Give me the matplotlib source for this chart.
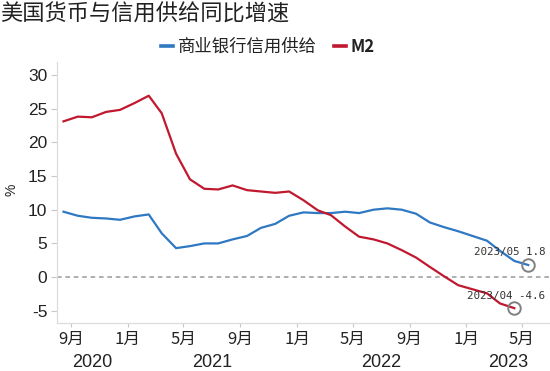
import matplotlib
matplotlib.use("Agg")
import matplotlib.pyplot as plt
import matplotlib.transforms as mtransforms
from matplotlib.lines import Line2D
import pandas as pd

plt.rcParams['font.family'] = ['Noto Sans CJK SC', 'DejaVu Sans']

title = "美国货币与信用供给同比增速"
series_names = ["商业银行信用供给", "M2"]

# monthly data, Aug 2020 onward
credit = [9.7, 9.1, 8.8, 8.7, 8.5, 9.0, 9.3, 6.5, 4.3, 4.6, 5.0, 5.0,
          5.6, 6.1, 7.3, 7.9, 9.1, 9.6, 9.5, 9.5, 9.7, 9.5, 10.0, 10.2,
          10.0, 9.4, 8.1, 7.4, 6.8, 6.1, 5.4, 3.9, 2.4, 1.8]
m2 = [23.1, 23.8, 23.7, 24.5, 24.8, 25.8, 26.9, 24.3, 18.3, 14.5, 13.1, 13.0,
      13.6, 12.9, 12.7, 12.5, 12.7, 11.4, 9.9, 9.2, 7.5, 6.0, 5.6, 5.0,
      4.0, 2.9, 1.5, 0.1, -1.2, -1.8, -2.4, -3.9, -4.6]
start_month = "2020-08-01"

tick_months = ["2020-09-01", "2021-01-01", "2021-05-01", "2021-09-01", "2022-01-01",
               "2022-05-01", "2022-09-01", "2023-01-01", "2023-05-01"]
tick_labels = ["9月", "1月", "5月", "9月", "1月", "5月", "9月", "1月", "5月"]
years = ["2020", "2021", "2022", "2023"]
year_spans = [("2020-08-01", "2021-01-01"), ("2021-01-01", "2022-01-01"),
              ("2022-01-01", "2023-01-01"), ("2023-01-01", "2023-07-01")]
yticks = [-5, 0, 5, 10, 15, 20, 25, 30]

blue = "#2f78c2"
red = "#c0182f"

months_c = pd.date_range(start_month, periods=len(credit), freq="MS") + pd.Timedelta(days=14)
months_m = pd.date_range(start_month, periods=len(m2), freq="MS") + pd.Timedelta(days=14)

fig = plt.figure(figsize=(5.5, 3.71), dpi=100)
ax = fig.add_axes([57/550, 48/371, 1 - 57/550, 261/371])

ax.axhline(0, color="#9a9a9a", lw=1.1, ls=(0, (3, 2.5)), zorder=1)
ax.plot(months_c, credit, color=blue, lw=1.6, zorder=3)
ax.plot(months_m, m2, color=red, lw=1.6, zorder=3)

# end-point markers and annotations
ax.plot([months_c[-1]], [credit[-1]], marker='o', ms=9, mfc='none', mec='#808080', mew=1.4, zorder=4)
ax.plot([months_m[-1]], [m2[-1]], marker='o', ms=9, mfc='none', mec='#808080', mew=1.4, zorder=4)
ax.annotate(f"{months_c[-1].strftime('%Y/%m')} {credit[-1]:.1f}", xy=(months_c[-1], credit[-1]),
            xytext=(12.2, 9.6), textcoords='offset points', ha='right', va='center',
            fontsize=7.8, family='DejaVu Sans Mono', color='#333333')
ax.annotate(f"{months_m[-1].strftime('%Y/%m')} {m2[-1]:.1f}", xy=(months_m[-1], m2[-1]),
            xytext=(22.3, 8.9), textcoords='offset points', ha='right', va='center',
            fontsize=7.8, family='DejaVu Sans Mono', color='#333333')

ax.set_xlim(pd.Timestamp("2020-08-01"), pd.Timestamp("2023-07-01"))
ax.set_ylim(-6.8, 31.9)

ax.set_xticks(pd.to_datetime(tick_months))
ax.set_xticklabels(tick_labels, fontsize=12, color='#222222')
ax.set_yticks(yticks)
ax.set_yticklabels([str(v) for v in yticks], fontsize=12.5, family='Liberation Sans', color='#222222')
ax.tick_params(axis='x', length=3, color='#c8c8c8', pad=3)
ax.tick_params(axis='y', length=4, color='#c8c8c8', pad=3)

for s in ['top', 'right']:
    ax.spines[s].set_visible(False)
for s in ['left', 'bottom']:
    ax.spines[s].set_color('#dcdcdc')
    ax.spines[s].set_linewidth(0.9)

trans = mtransforms.blended_transform_factory(ax.transData, ax.transAxes)
for yr, (a, b) in zip(years, year_spans):
    ta, tb = pd.Timestamp(a), pd.Timestamp(b)
    mid = ta + (tb - ta) / 2
    ax.text(mid, -0.152, yr, transform=trans, ha='center', va='center',
            fontsize=13, family='Liberation Sans', color='#222222')

fig.text(12/550, 1 - 190/371, "%", rotation=90, ha='center', va='center',
         fontsize=10, family='Liberation Sans', color='#222222')

fig.text(0.0, 1 - 14/371, title, ha='left', va='center', fontsize=16, color='#222222')

handles = [Line2D([], [], color=blue, lw=2.6), Line2D([], [], color=red, lw=2.6)]
leg = fig.legend(handles, series_names, loc='center', bbox_to_anchor=(268/550, 1 - 47/371),
                 ncol=2, frameon=False, fontsize=12.5, handlelength=0.7, handletextpad=0.25,
                 columnspacing=1.0, borderaxespad=0)
for t in leg.get_texts():
    t.set_color('#222222')
leg.get_texts()[1].set_fontweight('bold')
leg.get_texts()[1].set_fontsize(12)

fig.savefig("out.png", dpi=100)
